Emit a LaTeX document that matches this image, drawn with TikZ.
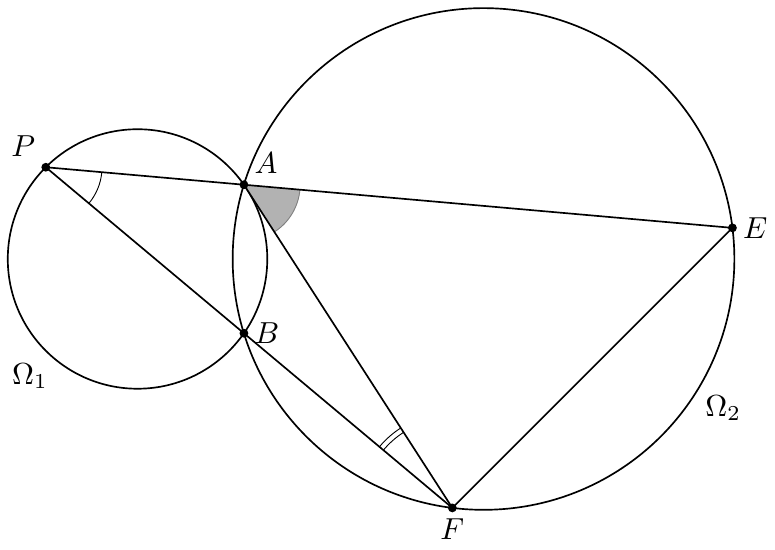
\documentclass[tikz,border=0pt]{standalone}
\usetikzlibrary{calc,intersections,angles}
\begin{document}
\begin{tikzpicture}[punto/.style={circle,fill,inner sep=0,minimum size=2.9pt},
	linea/.style={line width=0.55pt}, arco/.style={draw,line width=0.3pt}]
	\useasboundingbox (-1.59,-3.364) rectangle (7.37,2.994);
	\coordinate (O1) at (0,0);
	\coordinate (O2) at (4,0);
	\coordinate (P) at (135:1.5);
	\coordinate (A) at (1.23,0.8585);
	\coordinate (B) at (1.23,-0.8585);
	\draw[linea] (O1) circle (1.5); % Omega_1
	\draw[linea, name path=omega2] (O2) circle (2.9); % Omega_2
	\path[name path=rettaPA] ($(P)!1.1!(A)$) -- ($(P)!4!(A)$);
	\path[name path=rettaPB] ($(P)!1.1!(B)$) -- ($(P)!3!(B)$);
	\path[name intersections={of=omega2 and rettaPA, by=E}];
	\path[name intersections={of=omega2 and rettaPB, by=F}];
	% angoli
	\pic[fill=gray!60, draw=gray, line width=0.3pt, angle radius=0.65cm] {angle=F--A--E};
	\pic[arco, angle radius=0.65cm] {angle=B--P--A};
	\pic[arco, angle radius=1.04cm] {angle=A--F--B};
	\pic[arco, angle radius=1.1cm] {angle=A--F--B};
	\draw[linea] (P) -- (E) -- (F) -- (P);
	\draw[linea] (A) -- (F);
	% punti
	\node[punto] (p) at (P) {};
	\node[punto] (a) at (A) {};
	\node[punto] (b) at (B) {};
	\node[punto] (e) at (E) {};
	\node[punto] (f) at (F) {};
	\node[above left] (lp) at (P) {$P$};
	\node[above right] (la) at (A) {$A$};
	\node[right] (lb) at (B) {$B$};
	\node[right] (le) at (E) {$E$};
	\node[below] (lf) at (F) {$F$};
	\node (omega1) at (-1.243,-1.353) {$\Omega_1$};
	\node (omega2) at (6.772,-1.723) {$\Omega_2$};
\end{tikzpicture}
\end{document}
